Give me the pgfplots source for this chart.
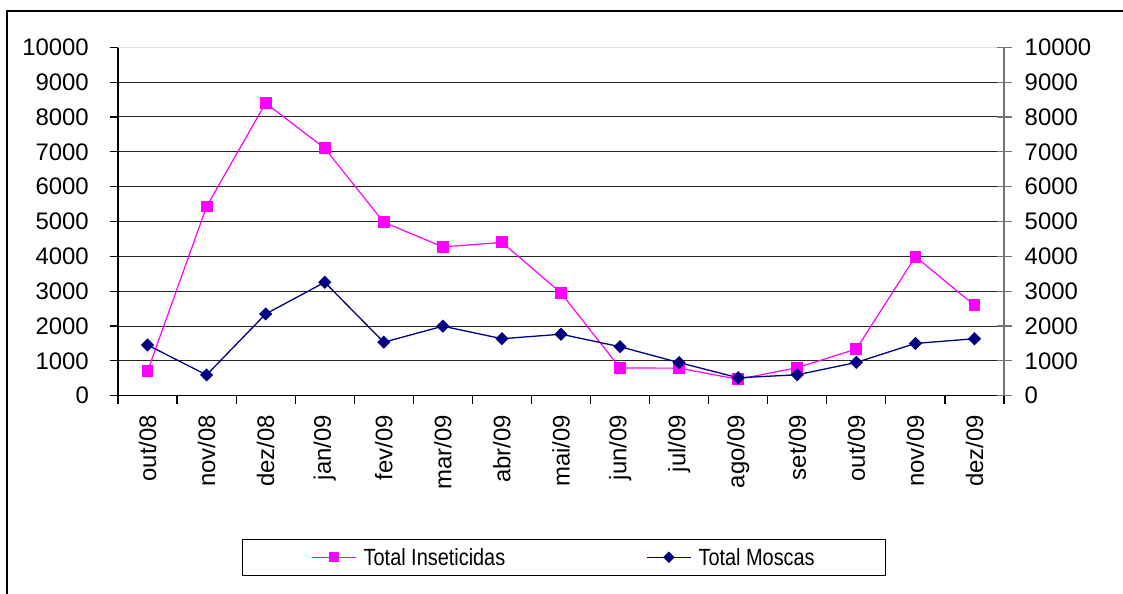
\documentclass[border=0pt]{standalone}
\usepackage{fontspec}
\setmainfont{Liberation Sans}
\newfontfamily\legfont[FakeStretch=0.85]{Liberation Sans}
\usepackage{pgfplots}
\usepackage{pgfplotstable}
\pgfplotsset{compat=1.18}

\definecolor{insec}{HTML}{FF00FF}
\definecolor{moscas}{HTML}{000080}

% monthly totals, out/08 .. dez/09
\pgfplotstableread{
idx insec moscas
0   700   1455
1   5430  595
2   8400  2345
3   7100  3255
4   4980  1535
5   4270  1995
6   4400  1635
7   2950  1765
8   795   1405
9   790   950
10  470   515
11  805   600
12  1340  955
13  3990  1500
14  2595  1635
}\datatable

\newcommand{\tickfont}{\fontsize{24}{28}\selectfont}

\begin{document}
\begin{tikzpicture}[x=1bp,y=1bp]
\useasboundingbox (0,0) rectangle (1123,594);
\draw[line width=2bp] (7,0) -- (7,583) -- (1123,583);

\begin{axis}[
    at={(118bp,198.3bp)}, anchor=south west,
    width=886bp, height=348.4bp, scale only axis,
    xmin=-0.5, xmax=14.5, ymin=0, ymax=10000,
    axis x line*=bottom, axis y line*=left,
    axis line style={line width=1.2bp, -},
    tick align=outside,
    major tick length=8bp,
    tick style={black, line width=1.2bp},
    xtick={-0.5,0.5,...,14.5},
    xticklabels={},
    extra x ticks={0,1,...,14},
    extra x tick labels={out/08,nov/08,dez/08,jan/09,fev/09,mar/09,abr/09,mai/09,jun/09,jul/09,ago/09,set/09,out/09,nov/09,dez/09},
    extra x tick style={major tick length=0pt},
    xticklabel style={font=\tickfont, rotate=90, anchor=east, inner sep=0pt},
    xticklabel shift=19bp,
    ytick={0,1000,...,9000},
    extra y ticks={10000},
    extra y tick style={major grid style={black!12, line width=1bp}},
    yticklabel style={font=\tickfont, anchor=east, inner sep=0pt, xshift=-21bp},
    scaled ticks=false,
    /pgf/number format/.cd, set thousands separator={}, assume math mode=true, /pgfplots/.cd,
    ymajorgrids,
    major grid style={black!85, line width=1bp},
    legend columns=2,
    legend style={
        at={(0.13995,-0.5175)}, anchor=south west,
        draw=black, line width=1bp,
        font=\legfont\fontsize{23.5}{26}\selectfont,
        inner xsep=69bp, inner ysep=7bp,
        /tikz/every odd column/.append style={column sep=5bp},
        /tikz/every even column/.append style={column sep=139bp},
    },
    legend image code/.code={
        \draw[mark repeat=2, mark phase=2, #1, every mark/.append style={scale=0.85}]
            plot coordinates {(0bp,0bp) (22bp,0bp) (44bp,0bp)};
    },
]
\addplot[insec, line width=1.2bp, mark=square*, mark size=5.3bp]
    table[x=idx, y=insec] {\datatable};
\addplot[moscas, line width=1.3bp, mark=square*, mark size=4bp, mark options={rotate=45}]
    table[x=idx, y=moscas] {\datatable};
\legend{Total Inseticidas, Total Moscas}
\end{axis}

\begin{axis}[
    at={(118bp,198.3bp)}, anchor=south west,
    width=886bp, height=348.4bp, scale only axis,
    xmin=-0.5, xmax=14.5, ymin=0, ymax=10000,
    axis x line=none, axis y line*=right,
    axis line style={black!55, line width=1.5bp, -},
    tick align=center,
    major tick length=15bp,
    tick style={black!55, line width=1.2bp},
    ytick={0,1000,...,10000},
    yticklabel style={font=\tickfont, anchor=west, inner sep=0pt, xshift=13bp},
    scaled ticks=false,
    /pgf/number format/.cd, set thousands separator={}, assume math mode=true, /pgfplots/.cd,
]
\end{axis}
\end{tikzpicture}
\end{document}
